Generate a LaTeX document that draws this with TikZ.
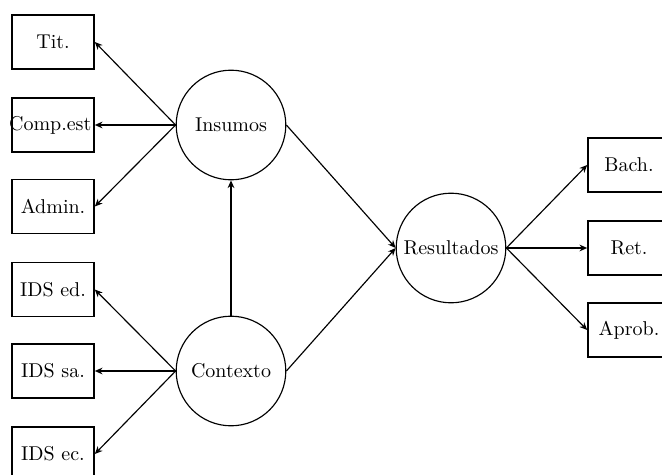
\documentclass[tikz,border=0pt]{standalone}
\usetikzlibrary{arrows.meta}
\begin{document}
\begin{tikzpicture}[x=0.52pt,y=-0.52pt,
  obs/.style={draw,line width=0.9pt,minimum width=42.6pt,minimum height=28pt,inner sep=0pt,font=\fontsize{10.4}{12}\selectfont},
  lat/.style={draw,circle,line width=0.6pt,minimum size=57pt,inner sep=0pt,font=\fontsize{10.4}{12}\selectfont},
  arr/.style={line width=0.6pt,-{Stealth[length=4pt,width=3.5pt]}}]
\useasboundingbox (0,0) rectangle (662,475);
\node[lat] (ins) at (231,125) {Insumos};
\node[lat] (ctx) at (231,371) {Contexto};
\node[lat] (res) at (451,248) {Resultados};
\node[obs] (tit) at (53,42) {Tit.};
\node[obs] (comp) at (53,125) {\makebox[0pt]{Comp.est.}};
\node[obs] (adm) at (53,206.5) {Admin.};
\node[obs] (ided) at (53,289.5) {IDS ed.};
\node[obs] (idsa) at (53,371) {IDS sa.};
\node[obs] (idec) at (53,454) {IDS ec.};
\node[obs] (bach) at (629,165) {Bach.};
\node[obs] (ret) at (629,248) {Ret.};
\node[obs] (aprob) at (629,330) {Aprob.};
\draw[arr] (ins.west) -- (tit.east);
\draw[arr] (ins.west) -- (comp.east);
\draw[arr] (ins.west) -- (adm.east);
\draw[arr] (ctx.west) -- (ided.east);
\draw[arr] (ctx.west) -- (idsa.east);
\draw[arr] (ctx.west) -- (idec.east);
\draw[arr] (ctx.north) -- (ins.south);
\draw[arr] (ins.east) -- (res.west);
\draw[arr] (ctx.east) -- (res.west);
\draw[arr] (res.east) -- (bach.west);
\draw[arr] (res.east) -- (ret.west);
\draw[arr] (res.east) -- (aprob.west);
\end{tikzpicture}
\end{document}
